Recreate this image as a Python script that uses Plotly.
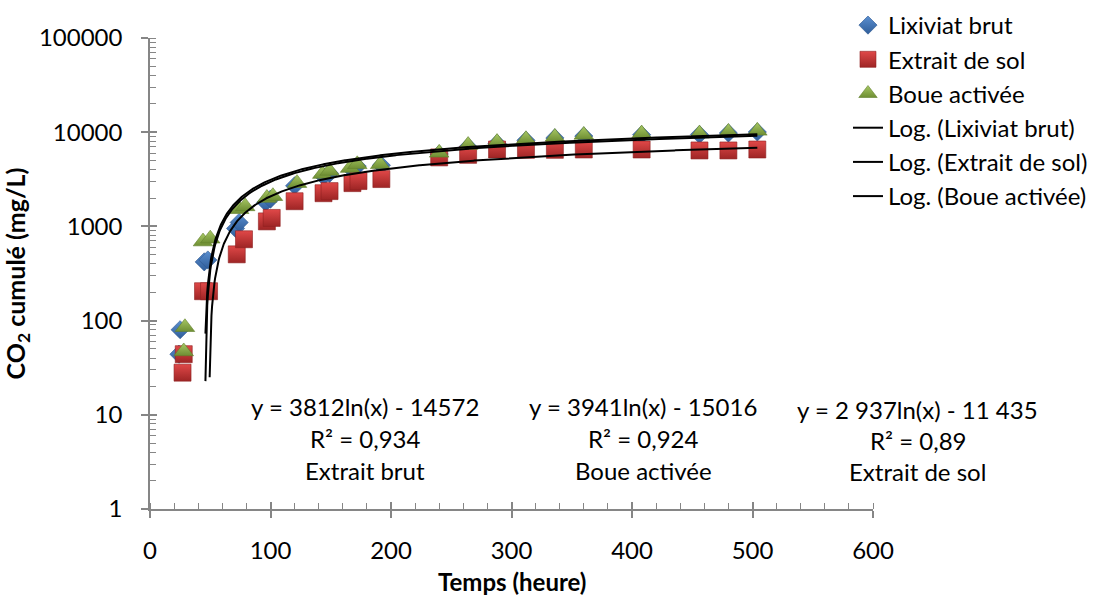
import numpy as np
import plotly.graph_objects as go

# ---------------- data ----------------
series_names = ["Lixiviat brut", "Extrait de sol", "Boue activée"]

hours_lix = [24, 25, 45, 48, 71, 74, 96, 100, 120, 144, 149, 168, 172, 192,
             240, 264, 288, 312, 336, 360, 408, 456, 480, 504]
co2_lix = [44, 80, 420, 440, 950, 1100, 1800, 1950, 2700, 3400, 3650, 3950, 4350, 4450,
           5850, 7000, 7600, 8200, 8700, 9100, 9400, 9450, 9800, 10050]

hours_sol = [27, 28, 44, 49, 72, 78, 97, 101, 120, 144, 149, 168, 173, 192,
             240, 264, 288, 312, 336, 360, 408, 456, 480, 504]
co2_sol = [28, 44, 205, 205, 505, 730, 1130, 1230, 1850, 2250, 2370, 2880, 3030, 3180,
           5400, 5750, 6550, 6500, 6500, 6550, 6550, 6400, 6400, 6550]

hours_boue = [28, 29, 44, 50, 74, 79, 97, 102, 122, 143, 149, 166, 172, 191,
              240, 264, 288, 312, 336, 360, 408, 456, 480, 504]
co2_boue = [47, 85, 690, 740, 1520, 1630, 2000, 2090, 2880, 3590, 3870, 4160, 4560, 4560,
            6040, 7300, 7850, 8420, 8910, 9360, 9660, 9660, 10070, 10330]

# logarithmic trend lines  y = a ln(x) + b
fit_names = ["Log. (Lixiviat brut)", "Log. (Extrait de sol)", "Log. (Boue activée)"]
fit_a = [3812, 2937, 3941]
fit_b = [-14572, -11435, -15016]

eq_texts = ["y = 3812ln(x) - 14572", "y = 3941ln(x) - 15016", "y = 2 937ln(x) - 11 435"]
r2_texts = ["R² = 0,934", "R² = 0,924", "R² = 0,89"]
label_texts = ["Extrait brut", "Boue activée", "Extrait de sol"]

x_ticks = [0, 100, 200, 300, 400, 500, 600]
y_ticks = [1, 10, 100, 1000, 10000, 100000]
x_title = "Temps (heure)"
y_title = "CO<sub>2</sub> cumulé (mg/L)"

# ---------------- style ----------------
FONT = "Lato"
FS = 24
AX = "#868686"
styles = [
    dict(symbol="diamond", size=14, color="#5B8FD0", grad="#2F5D99", line="#2A5590"),
    dict(symbol="square", size=17, color="#E04848", grad="#9E2525", line="#8E2020"),
    dict(symbol="triangle-up", size=17, color="#A8C864", grad="#6E8E33", line="#62802B"),
]

fig = go.Figure()
for name, xs, ys, st in zip(series_names, [hours_lix, hours_sol, hours_boue],
                            [co2_lix, co2_sol, co2_boue], styles):
    fig.add_trace(go.Scatter(
        x=xs, y=ys, mode="markers", name=name,
        marker=dict(symbol=st["symbol"], size=st["size"], color=st["color"],
                    gradient=dict(type="vertical", color=st["grad"]),
                    line=dict(width=0.6, color=st["line"])),
    ))

t_fit = np.arange(46, 504.5, 0.5)
for name, a, b in zip(fit_names, fit_a, fit_b):
    y_fit = a * np.log(t_fit) + b
    keep = y_fit > 20
    fig.add_trace(go.Scatter(
        x=t_fit[keep], y=y_fit[keep], mode="lines", name=name,
        line=dict(color="black", width=2),
    ))

# helper empty trace for the inside half of the crossing major ticks
fig.add_trace(go.Scatter(x=[], y=[], xaxis="x2", yaxis="y2", showlegend=False, hoverinfo="skip"))

# annotations (equations)
block_x = [0.2974, 0.682, 1.062]
block_y = [[0.2166, 0.1507, 0.0828], [0.2166, 0.1507, 0.0828], [0.2102, 0.1444, 0.0786]]
for bx, by, e, r, l in zip(block_x, block_y, eq_texts, r2_texts, label_texts):
    for yy, txt in zip(by, [e, r, l]):
        fig.add_annotation(x=bx, y=yy, xref="paper", yref="paper", text=txt,
                           showarrow=False, xanchor="center", yanchor="middle",
                           font=dict(family=FONT, size=FS, color="black"))

# x-axis title as annotation
fig.add_annotation(x=0.5, y=-0.1529, xref="paper", yref="paper", text="<b>" + x_title + "</b>",
                   showarrow=False, xanchor="center", yanchor="middle",
                   font=dict(family=FONT, size=FS, color="black"))

tickfont = dict(family=FONT, size=FS, color="black")
fig.update_layout(
    width=1097, height=596, autosize=False,
    margin=dict(l=150, r=224, t=38, b=87, autoexpand=False),
    paper_bgcolor="white", plot_bgcolor="white",
    showlegend=True,
    legend=dict(x=0.9654, xanchor="left", y=1.0743, yanchor="top",
                font=dict(family=FONT, size=FS, color="black"),
                bgcolor="rgba(0,0,0,0)", tracegroupgap=0, itemwidth=30),
    xaxis=dict(
        range=[0, 600], tickvals=x_ticks, ticks="outside", ticklen=7, tickwidth=1.5,
        tickcolor=AX, showline=True, linecolor=AX, linewidth=1.5,
        showgrid=False, zeroline=False, tickfont=tickfont, ticklabelstandoff=12,
        minor=dict(ticks="inside", dtick=20, ticklen=6, tickwidth=1.2, tickcolor=AX, showgrid=False),
    ),
    yaxis=dict(
        type="log", range=[0, 5], tickvals=y_ticks, ticktext=[str(v) for v in y_ticks],
        ticks="outside", ticklen=7, tickwidth=1.5, tickcolor=AX,
        showline=True, linecolor=AX, linewidth=1.5, showgrid=False, zeroline=False,
        tickfont=tickfont, ticklabelstandoff=14,
        minor=dict(ticks="inside", dtick="D1", ticklen=6, tickwidth=1.2, tickcolor=AX, showgrid=False),
        title=dict(text="<b>" + y_title + "</b>", font=dict(family=FONT, size=25, color="black"), standoff=10),
    ),
    xaxis2=dict(range=[0, 600], overlaying="x", anchor="y", side="bottom", tickvals=x_ticks,
                ticks="inside", ticklen=7, tickwidth=1.5, tickcolor=AX, showticklabels=False,
                showline=False, showgrid=False, zeroline=False),
    yaxis2=dict(type="log", range=[0, 5], overlaying="y", anchor="x", side="left", tickvals=y_ticks,
                ticks="inside", ticklen=7, tickwidth=1.5, tickcolor=AX, showticklabels=False,
                showline=False, showgrid=False, zeroline=False),
)

fig.write_html("out.html", config={"displayModeBar": False},
               post_script="document.body.style.margin='0px';")
